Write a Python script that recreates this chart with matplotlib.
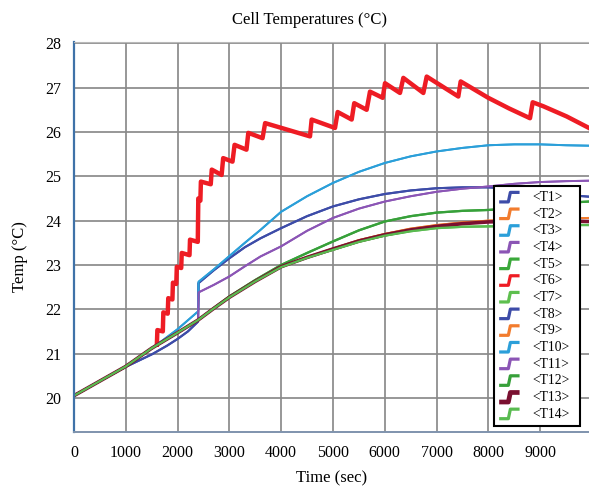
"""Cell temperatures (14 cells) vs time, drawn as a gridded line chart."""

import matplotlib

matplotlib.use("Agg")
import matplotlib.pyplot as plt  # noqa: E402
import numpy as np  # noqa: E402
from matplotlib.legend_handler import HandlerBase  # noqa: E402
from matplotlib.lines import Line2D  # noqa: E402

# ---- data ----
t_blue = [0, 500, 1000, 1500, 1800, 2000, 2200, 2395, 2405, 2700, 3000, 3300, 3600, 4000,
          4500, 5000, 5500, 6000, 6500, 7000, 7500, 8000, 8500, 9000, 9500, 9942]
T_blue = [20.05, 20.38, 20.70, 20.98, 21.18, 21.33, 21.50, 21.72, 22.59, 22.88, 23.15, 23.40,
          23.60, 23.83, 24.10, 24.32, 24.48, 24.60, 24.68, 24.73, 24.75, 24.75, 24.72, 24.65,
          24.58, 24.54]

t_lblue = [0, 500, 1000, 1600, 2000, 2395, 2405, 2700, 3000, 3300, 3600, 4000, 4500, 5000,
           5500, 6000, 6500, 7000, 7500, 8000, 8500, 9000, 9500, 9942]
T_lblue = [20.05, 20.38, 20.71, 21.20, 21.55, 21.95, 22.62, 22.90, 23.20, 23.50, 23.79, 24.20,
           24.55, 24.85, 25.10, 25.30, 25.45, 25.56, 25.64, 25.70, 25.72, 25.72, 25.70, 25.69]

t_purple = [0, 500, 1000, 1500, 2000, 2395, 2405, 2700, 3000, 3300, 3600, 4000, 4500, 5000,
            5500, 6000, 6500, 7000, 7500, 8000, 8500, 9000, 9500, 9942]
T_purple = [20.05, 20.38, 20.71, 21.12, 21.47, 21.76, 22.38, 22.55, 22.74, 22.97, 23.19, 23.42,
            23.77, 24.06, 24.27, 24.43, 24.55, 24.65, 24.72, 24.77, 24.83, 24.87, 24.89, 24.90]

t_green = [0, 500, 1000, 1500, 2000, 2400, 2700, 3000, 3500, 4000, 4500, 5000, 5500, 6000,
           6500, 7000, 7500, 8000, 8500, 9000, 9500, 9942]
T_green_hi = [20.05, 20.38, 20.71, 21.12, 21.47, 21.76, 22.03, 22.29, 22.66, 23.00, 23.27, 23.53,
              23.78, 23.98, 24.10, 24.18, 24.22, 24.24, 24.28, 24.35, 24.40, 24.43]
T_green_lo = [20.05, 20.38, 20.71, 21.12, 21.47, 21.76, 22.02, 22.27, 22.63, 22.95, 23.16, 23.34,
              23.52, 23.66, 23.76, 23.83, 23.86, 23.87, 23.88, 23.89, 23.90, 23.90]
T_maroon = [20.05, 20.38, 20.71, 21.12, 21.47, 21.76, 22.02, 22.27, 22.63, 22.96, 23.17, 23.36,
            23.54, 23.68, 23.79, 23.87, 23.93, 23.97, 23.99, 24.00, 23.99, 23.98]
T_orange = [20.05, 20.38, 20.71, 21.12, 21.47, 21.76, 22.02, 22.27, 22.63, 22.96, 23.18, 23.37,
            23.56, 23.70, 23.82, 23.90, 23.96, 24.00, 24.02, 24.04, 24.05, 24.06]

# the hot cell (T6): staircase then sawtooth
t_red = [1600, 1610, 1715, 1725, 1810, 1820, 1900, 1910, 1975, 1985, 2070, 2080,
         2230, 2240, 2390, 2400, 2440, 2450, 2640, 2660, 2850, 2880, 3060, 3100,
         3330, 3365, 3640, 3690, 4556, 4588, 5039, 5090, 5361, 5410, 5650, 5714,
         5960, 6004, 6293, 6358, 6744, 6809, 7419, 7465, 7998, 8400, 8803, 8855,
         9060, 9511, 9942]
T_red = [21.20, 21.53, 21.50, 21.93, 21.90, 22.25, 22.22, 22.60, 22.57, 22.96, 22.93, 23.27,
         23.22, 23.57, 23.52, 24.50, 24.45, 24.88, 24.82, 25.15, 25.03, 25.41, 25.33, 25.71,
         25.60, 25.98, 25.86, 26.20, 25.90, 26.28, 26.09, 26.45, 26.28, 26.65, 26.50, 26.91,
         26.77, 27.10, 26.88, 27.22, 26.88, 27.25, 26.80, 27.14, 26.77, 26.53, 26.31, 26.67,
         26.58, 26.35, 26.09]

labels = [f"<T{i}>" for i in range(1, 15)]
colors = ["#3d4ca8", "#f27c2e", "#2b9fd9", "#8b55b5", "#3aa83a", "#ee1c24", "#5dbf4e",
          "#3d4ca8", "#f27c2e", "#2b9fd9", "#8b55b5", "#37a03a", "#7a1030", "#59bb50"]
series = [(t_blue, T_blue), (t_green, T_orange), (t_lblue, T_lblue), (t_purple, T_purple),
          (t_green, T_green_hi), (t_red, T_red), (t_green, T_green_lo),
          (t_blue, T_blue), (t_green, T_orange), (t_lblue, T_lblue), (t_purple, T_purple),
          (t_green, T_green_hi), (t_green, T_maroon), (t_green, T_green_lo)]
widths = [1.5, 1.4, 1.4, 1.4, 1.6, 3.2, 1.6, 1.5, 1.4, 1.4, 1.4, 1.6, 2.6, 1.6]


class StepHandler(HandlerBase):
    """Legend glyph shaped like a small step."""

    def create_artists(self, legend, orig_handle, xdescent, ydescent, width, height,
                       fontsize, trans):
        xs = np.array([0.0, 0.45, 0.55, 1.0]) * width - xdescent
        ys = np.array([-0.1, -0.1, 0.9, 0.9]) * height - ydescent
        lw = 3.4 if orig_handle.get_color() == "#7a1030" else 2.3
        line = Line2D(xs, ys, color=orig_handle.get_color(), lw=lw,
                      solid_joinstyle="round", solid_capstyle="butt")
        line.set_transform(trans)
        return [line]


plt.rcParams["font.family"] = ["Liberation Serif", "DejaVu Serif"]

fig = plt.figure(figsize=(5.89, 4.94), dpi=100)
ax = fig.add_axes([0.1256, 0.1255, 0.8744, 0.7895])

handles = []
for (t, T), c, lw, lab in zip(series, colors, widths, labels):
    (h,) = ax.plot(t, T, color=c, lw=lw, label=lab, solid_joinstyle="round")
    handles.append(h)

ax.set_xlim(0, 9942)
ax.set_ylim(19.23, 28.03)
ax.set_xticks(range(0, 10000, 1000))
ax.set_yticks(range(20, 29))
ax.grid(True, color="#8a8a8a", lw=1.25)
ax.set_axisbelow(True)
ax.tick_params(length=0, labelsize=11.5, pad=9)

ax.spines["right"].set_visible(False)
ax.spines["top"].set_color("#b8b8b8")
ax.spines["left"].set_color("#3f72a8")
ax.spines["left"].set_linewidth(1.6)
ax.spines["bottom"].set_color("#7f93ad")
ax.spines["bottom"].set_linewidth(1.4)

ax.set_title("Cell Temperatures (°C)", fontsize=12, x=0.458, pad=13)
ax.set_xlabel("Time (sec)", fontsize=12, labelpad=7)
ax.set_ylabel("Temp (°C)", fontsize=12)
ax.yaxis.set_label_coords(-0.09, 0.45)

leg = ax.legend(handles=handles, loc="upper left", bbox_to_anchor=(0.8155, 0.0103, 0.167, 0.621),
                mode="expand", borderaxespad=0, fontsize=9.8, handlelength=1.5,
                handletextpad=0.95, labelspacing=0.27, borderpad=0.38, fancybox=False,
                framealpha=1, edgecolor="black",
                handler_map={Line2D: StepHandler()})
leg.get_frame().set_linewidth(1.5)

fig.savefig("out.png", dpi=100)
